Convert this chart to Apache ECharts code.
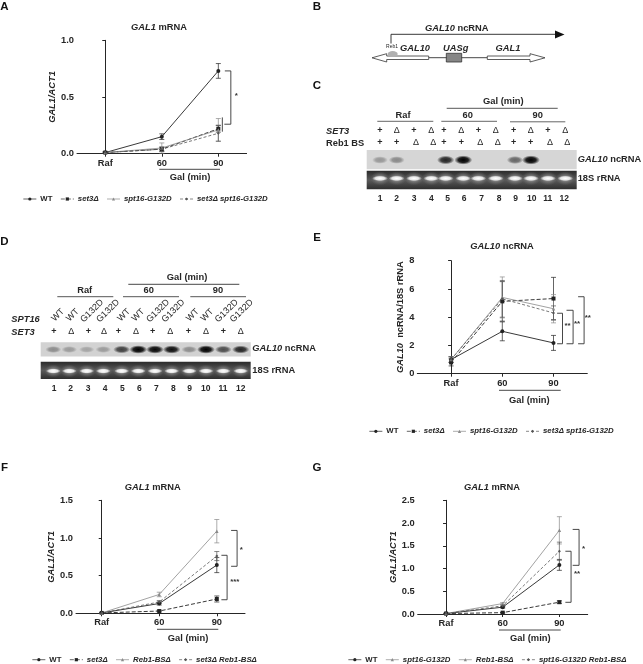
<!DOCTYPE html>
<html><head><meta charset="utf-8">
<style>html,body{margin:0;padding:0;background:#fff}#c{width:643px;height:664px}</style>
<script src="https://cdn.jsdelivr.net/npm/echarts@6/dist/echarts.min.js"></script>
</head><body><div id="c"></div>
<script>
const categories = ['Raf','60','90'];
// Panel A
const aWT=[0.01,0.15,0.73], aWTErr=[0.005,0.025,0.065];
const aSet3=[0.01,0.04,0.22], aSet3Err=[0.005,0.02,0.03];
const aSpt=[0.01,0.05,0.21], aSptErr=[0.005,0.045,0.1];
const aDbl=[0.01,0.04,0.18], aDblErr=[0.005,0.015,0.07];
// Panel E
const eWT=[1.0,3.0,2.18], eWTErr=[0.2,0.67,0.53];
const eSet3=[0.8,5.12,5.32], eSet3Err=[0.25,1.4,1.5];
const eSpt=[1.0,5.4,4.6], eSptErr=[0.2,1.45,1.0];
const eDbl=[1.0,5.3,4.3], eDblErr=[0.2,1.3,0.5];
// Panel F
const fWT=[0.005,0.13,0.64], fWTErr=[0.004,0.02,0.1];
const fSet3=[0.005,0.03,0.19], fSet3Err=[0.004,0.01,0.04];
const fReb=[0.005,0.25,1.09], fRebErr=[0.004,0.03,0.155];
const fDbl=[0.005,0.15,0.76], fDblErr=[0.004,0.02,0.06];
// Panel G
const gWT=[0.01,0.15,1.08], gWTErr=[0.005,0.02,0.12];
const gSpt=[0.01,0.03,0.26], gSptErr=[0.005,0.01,0.03];
const gReb=[0.01,0.23,1.84], gRebErr=[0.005,0.02,0.3];
const gDbl=[0.01,0.18,1.38], gDblErr=[0.005,0.02,0.2];
// Significance brackets: [top value, bottom value]
const aBrackets=[[0.73,0.26],[0.32,0.194]];
const eBrackets=[[4.28,2.12],[4.49,2.12],[5.45,2.12]];
const fBrackets=[[1.10,0.624],[0.77,0.18]];
const gBrackets=[[1.86,1.07],[1.38,0.257]];
// Gels: lane labels and band strengths
const laneNumbers=['1','2','3','4','5','6','7','8','9','10','11','12'];
const cSet3=['+','Δ','+','Δ','+','Δ','+','Δ','+','Δ','+','Δ'];
const cReb1=['+','+','Δ','Δ','+','+','Δ','Δ','+','+','Δ','Δ'];
const cBands=[0.38,0.45,0,0,0.85,1,0,0,0.6,1,0,0];
const dSpt16=['WT','WT','G132D','G132D','WT','WT','G132D','G132D','WT','WT','G132D','G132D'];
const dSet3=['+','Δ','+','Δ','+','Δ','+','Δ','+','Δ','+','Δ'];
const dBands=[0.42,0.35,0.3,0.35,0.75,1,0.95,0.92,0.42,1,0.7,0.85];

const FONT='"Liberation Sans",Arial,sans-serif', INK='#262626';
const styles={
 WT:{symbol:'circle',size:4,color:'#222',type:'solid',w:0.9},
 set3:{symbol:'rect',size:4,color:'#222',type:[4,2],w:0.9},
 spt:{symbol:'triangle',size:3.5,color:'#8a8a8a',type:'solid',w:0.8},
 dbl:{symbol:'diamond',size:3,color:'#555',type:[3,2],w:0.8}
};
const panels=[
 {key:'A',left:77,top:40.3,width:169.6,height:113.4,xMin:-0.5,xMax:2.5,yMax:1,yStep:0.5,dec:1,
  yName:'{i|GAL1/ACT1}',nameGap:20,title:[159,29],
  names:['WT','set3Δ','spt16-G132D','set3Δ spt16-G132D'],kinds:['WT','set3','spt','dbl'],
  vals:[aWT,aSet3,aSpt,aDbl],errs:[aWTErr,aSet3Err,aSptErr,aDblErr],
  legend:[23,199],br:aBrackets,brDx:[[6.5,12.5,6],[4,4,4]],lab:[['*',18,null,96]],
  gal:[159.3,220,169.3,190,177.7]},
 {key:'E',left:417.3,top:260.7,width:170,height:113,xMin:-0.66,xMax:2.66,yMax:8,yStep:2,dec:0,
  yName:'{i|GAL10}  ncRNA/18S rRNA',nameGap:12,title:[502,247.7],
  names:['WT','set3Δ','spt16-G132D','set3Δ spt16-G132D'],kinds:['WT','set3','spt','dbl'],
  vals:[eWT,eSet3,eSpt,eDbl],errs:[eWTErr,eSet3Err,eSptErr,eDblErr],
  legend:[369,431.3],br:eBrackets,brDx:[[3.6,9,3.6],[13,19.6,13],[24.6,30.6,24.6]],
  lab:[['**',14,null,326],['**',23.6,null,324],['**',34.3,null,317.7]],
  gal:[499,560.7,390.3,529.3,400.3]},
 {key:'F',left:76,top:500.3,width:169,height:113,xMin:-0.447,xMax:2.49,yMax:1.5,yStep:0.5,dec:1,
  yName:'{i|GAL1/ACT1}',nameGap:20,title:[152.7,489.3],
  names:['WT','set3Δ','Reb1-BSΔ','set3Δ Reb1-BSΔ'],kinds:['WT','set3','spt','dbl'],
  vals:[fWT,fSet3,fReb,fDbl],errs:[fWTErr,fSet3Err,fRebErr,fDblErr],
  legend:[32,659.7],br:fBrackets,brDx:[[14.3,20.3,14.3],[4.6,10.3,4.6]],lab:[['*',24.6,null,549.3],['***',18,null,581.7]],
  gal:[157,218.3,629.3,188,638]},
 {key:'G',left:417.7,top:500.3,width:170,height:113.7,xMin:-0.5,xMax:2.5,yMax:2.5,yStep:0.5,dec:1,
  yName:'{i|GAL1/ACT1}',nameGap:20,title:[492,489.3],
  names:['WT','spt16-G132D','Reb1-BSΔ','spt16-G132D Reb1-BSΔ'],kinds:['WT','set3','spt','dbl'],
  vals:[gWT,gSpt,gReb,gDbl],errs:[gWTErr,gSptErr,gRebErr,gDblErr],
  legend:[348,659.7],br:gBrackets,brDx:[[13.3,19.7,13.3],[6,11.7,6]],lab:[['*',24.3,null,548.3],['**',17.7,null,574]],
  gal:[499,560.7,630,530.3,638.3]}
];
const grid=[],xAxis=[],yAxis=[],series=[],legend=[],title=[];
panels.forEach((p,pi)=>{
 grid.push({left:p.left,top:p.top,width:p.width,height:p.height,containLabel:false});
 xAxis.push({type:'value',gridIndex:pi,min:p.xMin,max:p.xMax,splitLine:{show:false},
  axisLine:{lineStyle:{color:INK,width:1}},
  axisTick:{customValues:[0,1,2],length:3,lineStyle:{color:INK,width:1}},
  axisLabel:{customValues:[0,1,2],formatter:v=>categories[v],margin:5,color:INK,fontFamily:FONT,fontWeight:'bold',fontSize:9.3}});
 yAxis.push({type:'value',gridIndex:pi,min:0,max:p.yMax,interval:p.yStep,splitLine:{show:false},
  axisLine:{show:true,lineStyle:{color:INK,width:1}},
  axisTick:{show:true,length:3,lineStyle:{color:INK,width:1}},
  axisLabel:{formatter:v=>v.toFixed(p.dec),margin:3,color:INK,fontFamily:FONT,fontWeight:'bold',fontSize:9.3},
  name:p.yName,nameLocation:'middle',nameRotate:90,nameGap:p.nameGap,
  nameTextStyle:{fontFamily:FONT,fontWeight:'bold',fontSize:9.3,color:INK,
   rich:{i:{fontStyle:'italic',fontWeight:'bold',fontFamily:FONT,fontSize:9.3,color:INK}}}});
 title.push({text:'{i|GAL'+(p.key==='E'?'10} ncRNA':'1} mRNA'),left:p.title[0],top:p.title[1]-6,textAlign:'center',padding:0,
  textStyle:{fontFamily:FONT,fontWeight:'bold',fontSize:9.3,color:INK,
   rich:{i:{fontStyle:'italic',fontWeight:'bold',fontFamily:FONT,fontSize:9.3,color:INK}}}});
 p.names.forEach((name,si)=>{
  const s=styles[p.kinds[si]];
  series.push({type:'line',name,xAxisIndex:pi,yAxisIndex:pi,silent:true,z:3,
   data:p.vals[si].map((v,i)=>[i,v]),symbol:s.symbol,symbolSize:s.size,showSymbol:true,
   itemStyle:{color:s.color},lineStyle:{color:s.color,width:s.w,type:s.type}});
  series.push({type:'custom',xAxisIndex:pi,yAxisIndex:pi,silent:true,z:2,
   data:p.vals[si].map((v,i)=>[i,v-p.errs[si][i],v+p.errs[si][i]]),
   encode:{x:0,y:1},
   renderItem:(params,api)=>{
    const a=api.coord([api.value(0),api.value(1)]),b=api.coord([api.value(0),api.value(2)]);
    const st={stroke:s.color,lineWidth:0.7,fill:'none'};
    return {type:'group',children:[
     {type:'line',shape:{x1:a[0],y1:a[1],x2:b[0],y2:b[1]},style:st},
     {type:'line',shape:{x1:a[0]-2.5,y1:a[1],x2:a[0]+2.5,y2:a[1]},style:st},
     {type:'line',shape:{x1:b[0]-2.5,y1:b[1],x2:b[0]+2.5,y2:b[1]},style:st}]};
   }});
 });
 series.push({type:'custom',xAxisIndex:pi,yAxisIndex:pi,silent:true,z:2,
  data:p.br.map((b,i)=>[2,b[0],b[1],i]),encode:{x:0,y:1},
  renderItem:(params,api)=>{
   const t=api.coord([2,api.value(1)]),bt=api.coord([2,api.value(2)]),d=p.brDx[api.value(3)];
   return {type:'polyline',shape:{points:[[t[0]+d[0],t[1]],[t[0]+d[1],t[1]],[t[0]+d[1],bt[1]],[t[0]+d[2],bt[1]]]},
    style:{stroke:'#333',lineWidth:0.9,fill:'none'}};
  }});
 series.push({type:'custom',xAxisIndex:pi,yAxisIndex:pi,silent:true,z:2,
  data:p.lab.map((l,i)=>[2,0,i]),encode:{x:0,y:1},
  renderItem:(params,api)=>{
   const c=api.coord([2,0]),l=p.lab[api.value(2)];
   return {type:'text',x:c[0]+l[1],y:l[3],style:{text:l[0],align:'center',verticalAlign:'middle',fontFamily:FONT,fontWeight:'bold',fontSize:8,fill:'#333'}};
  }});
 legend.push({left:p.legend[0],top:p.legend[1]-4,padding:0,itemWidth:13,itemHeight:4,itemGap:8,selectedMode:false,
  lineStyle:{width:0.7},
  textStyle:{fontFamily:FONT,fontWeight:'bold',fontSize:7.8,color:INK,padding:[0,0,0,-1]},
  data:p.names.map(n=>({name:n,textStyle:{fontStyle:n==='WT'?'normal':'italic',fontFamily:FONT,fontWeight:'bold',fontSize:7.8,color:INK}}))});
});

const g=[];
const T=(x,y,text,o={})=>g.push({type:'text',x,y,rotation:o.rot||0,silent:true,z:10,style:{text,align:o.align||'center',verticalAlign:'middle',
  fontFamily:FONT,fontWeight:o.w||'bold',fontStyle:o.st||'normal',fontSize:o.s||9.3,fill:o.c||INK,
  rich:{i:{fontStyle:'italic',fontWeight:'bold',fontFamily:FONT,fontSize:o.s||9.3,fill:o.c||INK}}}});
const L=(x1,y1,x2,y2,c='#333',w=0.9)=>g.push({type:'line',silent:true,z:10,shape:{x1,y1,x2,y2},style:{stroke:c,lineWidth:w}});
[['A',4.5,7],['B',317,6.5],['C',317,86],['D',4.5,242],['E',317,238],['F',4.5,468],['G',317,468]].forEach(a=>T(a[1],a[2],a[0],{s:11.5,c:'#111'}));
panels.forEach(p=>{L(p.gal[0],p.gal[2],p.gal[1],p.gal[2]);T(p.gal[3],p.gal[4],'Gal (min)',{s:9.4});});

// Panel B schematic
L(391,43.5,391,34.3,'#222',0.9);L(391,34.3,557,34.3,'#222',0.9);
g.push({type:'polygon',silent:true,z:10,shape:{points:[[555,30.5],[564.5,34.5],[555,38.5]]},style:{fill:'#111'}});
T(456.7,28,'{i|GAL10} ncRNA');
T(392,47,'Reb1',{s:5,w:'normal'});
T(415,48,'GAL10',{st:'italic'});T(455.7,48,'UASg',{st:'italic'});T(508,48,'GAL1',{st:'italic'});
L(428.7,57.7,487,57.7,'#333',0.9);
const arrow=pts=>g.push({type:'polygon',silent:true,z:10,shape:{points:pts},style:{fill:'#fff',stroke:'#333',lineWidth:0.8}});
arrow([[372,57.8],[386.7,53.7],[386.7,56],[428.7,56],[428.7,59.5],[386.7,59.5],[386.7,62]]);
arrow([[545,57.8],[530,53.7],[530,56],[487.3,56],[487.3,59.5],[530,59.5],[530,62]]);
g.push({type:'ellipse',silent:true,z:11,shape:{cx:392.7,cy:54,rx:5,ry:3},style:{fill:'#b0b0b0'}});
g.push({type:'rect',silent:true,z:10,shape:{x:446.3,y:53.3,width:15.4,height:8.7},style:{fill:'#868686',stroke:'#333',lineWidth:0.8}});

// Gel helpers
const RG=echarts.graphic.RadialGradient, LG=echarts.graphic.LinearGradient;
const blob=(cx,cy,rx,ry,stops)=>g.push({type:'circle',silent:true,z:9,x:cx,y:cy,scaleX:rx/ry,scaleY:1,
  shape:{cx:0,cy:0,r:ry},style:{fill:new RG(.5,.5,.5,stops)}});
const blot=(x,y,w,h,bg,xs,bands,cy,rx,ry)=>{
 g.push({type:'rect',silent:true,z:8,shape:{x,y,width:w,height:h},style:{fill:bg}});
 bands.forEach((v,i)=>{ if(!v)return;
  const a=Math.min(1,v*1.05), gray=Math.round(90*(1-v));
  blob(xs[i],cy,rx*(0.8+0.2*v),ry*(0.7+0.3*v),[{offset:0,color:`rgba(${gray},${gray},${gray},${a})`},{offset:.55,color:`rgba(${gray},${gray},${gray},${a*.85})`},{offset:1,color:`rgba(${gray},${gray},${gray},0)`}]);
 });
};
const rrna=(x,y,w,h,xs,cy,rx)=>{
 g.push({type:'rect',silent:true,z:8,shape:{x,y,width:w,height:h},style:{fill:new LG(0,0,0,1,[{offset:0,color:'#2a2a2a'},{offset:.5,color:'#5a5a5a'},{offset:1,color:'#2e2e2e'}])}});
 xs.forEach(cx=>{
  blob(cx,cy,rx*1.2,h*.38,[{offset:0,color:'rgba(190,190,190,.9)'},{offset:1,color:'rgba(120,120,120,0)'}]);
  blob(cx,cy,rx,h*.15,[{offset:0,color:'rgba(255,255,255,1)'},{offset:.6,color:'rgba(240,240,240,.9)'},{offset:1,color:'rgba(220,220,220,0)'}]);
 });
};
// Panel C
T(503.3,101.7,'Gal (min)',{s:9.4});L(446.7,108.3,557.7,108.3,'#444');
T(403,115,'Raf');L(377.3,121.3,433.3,121.3,'#555');
T(467.7,115,'60');L(441.3,121.3,497,121.3,'#555');
T(537.7,115,'90');L(510,121.8,565.3,121.8,'#555');
T(326,131,'SET3',{align:'left',st:'italic'});T(326,143,'Reb1 BS',{align:'left'});
const cRow=[380,396.7,414,431.3,444,461.3,478.3,495.7,513.7,530.7,548,565.3];
const cNum=[380,396.7,414,431.3,447.7,464,481.7,499,515.7,531.7,547.7,564.3];
cSet3.forEach((s,i)=>T(cRow[i],131,s,{s:9,w:s==='+'?'bold':'normal'}));
cReb1.forEach((s,i)=>T(cRow[i]+(i%4>1?2:0),143,s,{s:9,w:s==='+'?'bold':'normal'}));
const cBandX=[380,396.7,414,431.3,445.7,463.3,478.3,495.7,515,531,548,565.3];
blot(366.7,150,210,19.3,'#d6d6d6',cBandX,cBands,160,9,4.6);
rrna(366.7,170.7,210,18.6,cBandX,178.4,8);
T(577.7,159,'{i|GAL10} ncRNA',{align:'left'});T(577.7,178.3,'18S rRNA',{align:'left'});
laneNumbers.forEach((n,i)=>T(cNum[i],198.3,n,{s:8.5}));
// Panel D
T(187,277.7,'Gal (min)',{s:9.4});L(128.3,284.3,239.3,284.3,'#333');
T(84.7,290.7,'Raf');L(57.3,296.7,113.3,296.7,'#444');
T(148.7,290.7,'60');L(123,296.7,179,296.7,'#444');
T(218,290.7,'90');L(190.3,296.7,246,296.7,'#444');
T(11.3,319.3,'SPT16',{align:'left',st:'italic'});T(11.3,332.7,'SET3',{align:'left',st:'italic'});
const dRot=[58,72.7,92,108,124,138.3,158,173.3,192.7,207.3,226.7,241.7];
dSpt16.forEach((s,i)=>T(dRot[i],s==='WT'?315:311,s,{rot:Math.PI/4,w:'normal',s:9}));
const dRow=[54,71.3,88.3,104,118.3,136,152.7,170.3,188.3,206,223.3,240.7];
dSet3.forEach((s,i)=>T(dRow[i],332,s,{s:9,w:s==='+'?'bold':'normal'}));
const dBandX=[53.3,69.3,86.7,103.3,121.7,138.3,155,171.7,189.3,206,223.3,240.7];
blot(40.7,342.3,210,14.3,'#d2d2d2',dBandX,dBands,349.5,9,4.2);
rrna(40.7,361.7,210,17.3,dBandX,371,7.5);
T(252.3,348.7,'{i|GAL10} ncRNA',{align:'left'});T(252.3,370.7,'18S rRNA',{align:'left'});
const dNum=[54,70.7,88,105,122.3,139.3,156.3,173.3,189.7,205.7,223,240.7];
laneNumbers.forEach((n,i)=>T(dNum[i],388.7,n,{s:8.5}));

const chart=echarts.init(document.getElementById('c'),null,{renderer:'canvas',width:643,height:664});
chart.setOption({animation:false,backgroundColor:'#fff',tooltip:{show:false},grid,xAxis,yAxis,series,legend,title,graphic:{elements:g}});
</script></body></html>
